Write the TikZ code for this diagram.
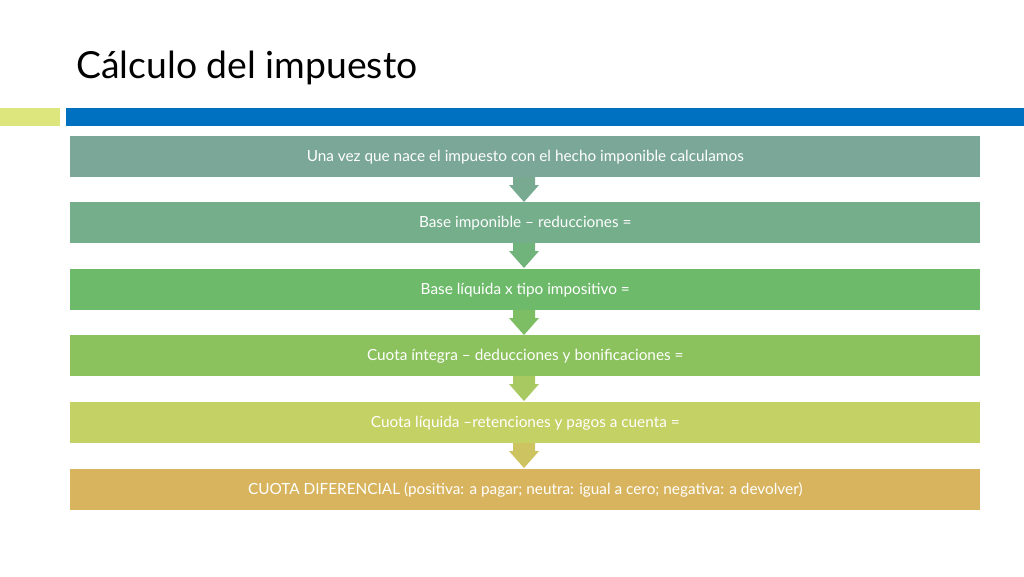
\documentclass[tikz,border=0pt]{standalone}
\usepackage{fontspec}
\setmainfont{Lato}
\begin{document}
\begin{tikzpicture}[x=0.75pt,y=-0.75pt,
  box/.style={minimum width=910*0.75pt,minimum height=41*0.75pt,inner sep=0pt,text=white,font=\fontsize{11.5}{13}\selectfont,anchor=north west},
  arr/.style={}]
\useasboundingbox (0,0) rectangle (1024,576);
\fill[white] (0,0) rectangle (1024,576);
\node[anchor=base west,inner sep=0pt,font=\fontsize{28}{32}\selectfont] (title) at (76,78) {Cálculo del impuesto};
\fill[color={rgb,255:red,221;green,230;blue,124}] (0,108) rectangle (60,126);
\fill[color={rgb,255:red,0;green,112;blue,192}] (66,108) rectangle (1024,126);
\definecolor{c1}{RGB}{123,167,153}
\definecolor{c2}{RGB}{117,174,139}
\definecolor{c3}{RGB}{110,186,107}
\definecolor{c4}{RGB}{140,194,94}
\definecolor{c5}{RGB}{196,209,100}
\definecolor{c6}{RGB}{217,180,94}
\definecolor{a1}{RGB}{120,170,146}
\definecolor{a2}{RGB}{113,180,123}
\definecolor{a3}{RGB}{125,190,100}
\definecolor{a4}{RGB}{168,201,97}
\definecolor{a5}{RGB}{206,195,97}
\foreach \y/\a in {177/a1,243/a2,310/a3,376/a4,443/a5}{
  \fill[\a] (513,\y) -- (535,\y) -- (535,\y+8) -- (539,\y+8) -- (524,\y+25) -- (509,\y+8) -- (513,\y+8) -- cycle;
}
\node[box,fill=c1] (b1) at (70,136) {Una vez que nace el impuesto con el hecho imponible calculamos};
\node[box,fill=c2] (b2) at (70,202) {Base imponible – reducciones =};
\node[box,fill=c3] (b3) at (70,269) {Base líquida x tipo impositivo =};
\node[box,fill=c4] (b4) at (70,335) {Cuota íntegra – deducciones y bonificaciones =};
\node[box,fill=c5] (b5) at (70,402) {Cuota líquida –retenciones y pagos a cuenta =};
\node[box,fill=c6] (b6) at (70,469) {CUOTA DIFERENCIAL (positiva: a pagar; neutra: igual a cero; negativa: a devolver)};
\end{tikzpicture}
\end{document}
